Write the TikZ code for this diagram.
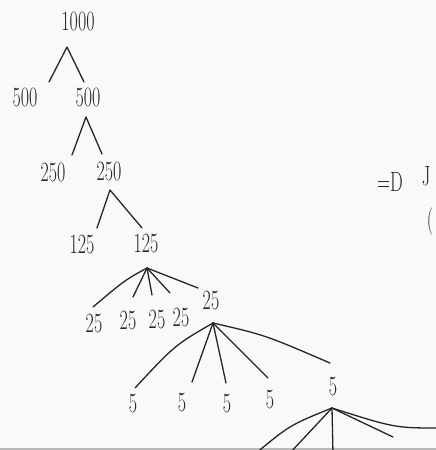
\documentclass[tikz,border=0pt]{standalone}
\newcommand\talltext[1]{\scalebox{1}[1.55]{#1}}
\begin{document}
\begin{tikzpicture}[x=1pt,y=-1pt,
  lab/.style={font=\fontsize{18}{22}\selectfont, text=ink, inner sep=0pt},
  br/.style={draw=ink, line width=1.3pt, line cap=round, line join=round}]
\definecolor{ink}{HTML}{252525}
\definecolor{paper}{HTML}{F8F9FA}
\useasboundingbox (0,0) rectangle (436,450);
\clip (0,0) rectangle (436,450);
\fill[paper] (0,0) rectangle (436,450);
\fill[gray!55] (0,448) rectangle (436,450);
% labels
\node[lab] (n1000) at (78,22) {\talltext{1000}};
\node[lab] (n500a) at (25,98) {\talltext{500}};
\node[lab] (n500b) at (88,98) {\talltext{500}};
\node[lab] (n250a) at (53,172) {\talltext{250}};
\node[lab] (n250b) at (109,171) {\talltext{250}};
\node[lab] (n125a) at (82,244) {\talltext{125}};
\node[lab] (n125b) at (146,243) {\talltext{125}};
\node[lab] (n25a) at (94,323) {\talltext{25}};
\node[lab] (n25b) at (128,320) {\talltext{25}};
\node[lab] (n25c) at (157,319) {\talltext{25}};
\node[lab] (n25d) at (181,317) {\talltext{25}};
\node[lab] (n25e) at (211,300) {\talltext{25}};
\node[lab] (n5a) at (133,404) {\talltext{5}};
\node[lab] (n5b) at (182,403) {\talltext{5}};
\node[lab] (n5c) at (227,404) {\talltext{5}};
\node[lab] (n5d) at (270,400) {\talltext{5}};
\node[lab] (n5e) at (333,387) {\talltext{5}};
\node[lab] (imp) at (390,182) {\talltext{=D}};
\node[lab] (jj) at (426,176) {\talltext{J}};
\node[lab] (par) at (430,222) {\talltext{(}};
% branch points
\coordinate (a1) at (67,47);
\coordinate (a2) at (86,117);
\coordinate (a3) at (110,190);
\coordinate (a4) at (147,268);
\coordinate (a5) at (213,323);
\coordinate (a6) at (332,408);
% ends
\coordinate (e1a) at (49,82);  \coordinate (e1b) at (84,82);
\coordinate (e2a) at (72,155); \coordinate (e2b) at (102,154);
\coordinate (e3a) at (97,228); \coordinate (e3b) at (142,228);
\coordinate (e4a) at (93,307); \coordinate (e4b) at (133,297);
\coordinate (e4c) at (152,295); \coordinate (e4d) at (170,293);
\coordinate (e4e) at (198,288);
\coordinate (e5a) at (135,388); \coordinate (e5b) at (192,382);
\coordinate (e5c) at (226,383); \coordinate (e5d) at (268,378);
\coordinate (e5e) at (330,363);
\coordinate (e6a) at (255,454); \coordinate (e6b) at (289,454);
\coordinate (e6c) at (333,454); \coordinate (e6d) at (393,437);
\coordinate (e6e) at (440,428);
% connectors
\draw[br] (e1a) -- (a1) -- (e1b);
\draw[br] (e2a) -- (a2) -- (e2b);
\draw[br] (e3a) -- (a3) -- (e3b);
\draw[br] (a4) .. controls (125,280) .. (e4a);
\draw[br] (a4) -- (e4b);
\draw[br] (a4) -- (e4c);
\draw[br] (a4) -- (e4d);
\draw[br] (a4) -- (e4e);
\draw[br] (a5) .. controls (175,345) .. (e5a);
\draw[br] (a5) -- (e5b);
\draw[br] (a5) -- (e5c);
\draw[br] (a5) -- (e5d);
\draw[br] (a5) .. controls (265,335) .. (e5e);
\draw[br] (a6) .. controls (290,425) .. (e6a);
\draw[br] (a6) -- (e6b);
\draw[br] (a6) -- (e6c);
\draw[br] (a6) -- (e6d);
\draw[br] (a6) .. controls (395,428) .. (e6e);
\end{tikzpicture}
\end{document}
